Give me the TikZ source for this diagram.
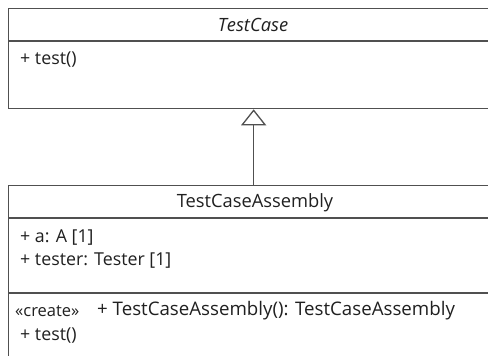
\documentclass[tikz,border=0pt]{standalone}
\usepackage{fontspec}
\setmainfont{Open Sans}
\usetikzlibrary{arrows.meta}
\definecolor{linec}{HTML}{505050}
\definecolor{textc}{HTML}{202020}
\tikzset{
  classbox/.style={draw=linec, line width=1.3pt, fill=white, rectangle, inner sep=0pt, anchor=north west, minimum width=490pt},
  sepline/.style={draw=linec, line width=1.3pt},
  member/.style={anchor=west, inner sep=0pt, text=textc, font=\fontsize{17.8}{20}\selectfont},
  title/.style={anchor=center, inner sep=0pt, text=textc, font=\fontsize{18.3}{21}\selectfont},
  inherit/.style={draw=linec, line width=1.3pt, -{Triangle[open, length=16pt, width=25pt, fill=white]}}
}
\begin{document}
\begin{tikzpicture}[x=1pt, y=-1pt]
\useasboundingbox (0,0) rectangle (488,356);
\clip (0,0) rectangle (488,356);
\fill[white] (0,0) rectangle (488,356);
% TestCase
\node[classbox, minimum height=100pt] (tc) at (8,8) {};
\coordinate (tcsepL) at (8,41);
\coordinate (tcsepR) at (498,41);
\draw[sepline] (tcsepL) -- (tcsepR);
\node[title, font=\fontsize{18.3}{21}\selectfont\itshape] (tcname) at (253,25) {TestCase};
\node[member] (tcop) at (20,60) {+ test()};
% TestCaseAssembly
\node[classbox, minimum height=220pt] (tca) at (8,185) {};
\coordinate (tcasep1L) at (8,218);
\coordinate (tcasep1R) at (498,218);
\coordinate (tcasep2L) at (8,293);
\coordinate (tcasep2R) at (498,293);
\draw[sepline] (tcasep1L) -- (tcasep1R);
\draw[sepline] (tcasep2L) -- (tcasep2R);
\node[title] (tcaname) at (255,203) {TestCaseAssembly};
\node[member] (attra) at (20,238) {+ a: A [1]};
\node[member] (attrt) at (20,261) {+ tester: Tester [1]};
\node[member, font=\fontsize{16.5}{19}\selectfont] (stereo) at (15,311) {«create»};
\node[member, font=\fontsize{18.7}{21}\selectfont] (ctor) at (97,311) {+ TestCaseAssembly(): TestCaseAssembly};
\node[member] (tcaop) at (20,336) {+ test()};
% generalization
\draw[inherit] (tca.north) -- (tc.south);
\end{tikzpicture}
\end{document}
